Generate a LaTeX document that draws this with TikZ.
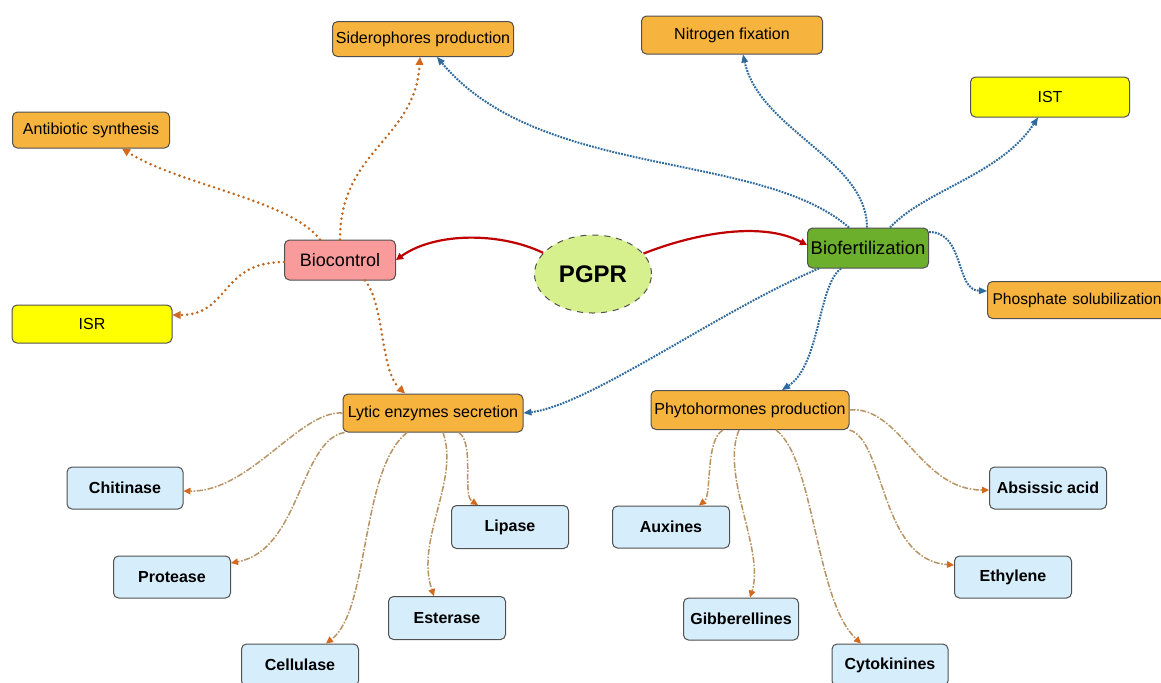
\documentclass[tikz,border=0pt]{standalone}
\usepackage{fontspec}
\setmainfont{Liberation Sans}
\usetikzlibrary{arrows.meta,shapes.geometric}
\definecolor{orangeF}{HTML}{F6B33E}
\definecolor{yellowF}{HTML}{FFFF00}
\definecolor{blueF}{HTML}{D6EDFB}
\definecolor{pinkF}{HTML}{F99B9B}
\definecolor{greenF}{HTML}{6BAF2C}
\definecolor{pgprF}{HTML}{D5F08C}
\definecolor{borderC}{HTML}{505050}
\definecolor{redL}{HTML}{C00000}
\definecolor{brownL}{HTML}{C0651B}
\definecolor{blueL}{HTML}{2F6A9E}
\definecolor{tanL}{HTML}{B89464}
\definecolor{tipO}{HTML}{D2691E}
\tikzset{
  box/.style 2 args={rectangle, rounded corners=2.5pt, draw=borderC, line width=0.5pt,
    minimum width=#1*0.5pt, minimum height=#2*0.5pt, inner sep=0pt, align=center},
  orangebox/.style={fill=orangeF, font=\fontsize{8}{9}\selectfont},
  yellowbox/.style={fill=yellowF, font=\fontsize{8}{9}\selectfont},
  bluebox/.style={fill=blueF, font=\fontsize{8}{9}\selectfont\bfseries},
  redlink/.style={draw=redL, line width=1.1pt, -{Triangle[length=3.5pt,width=3.5pt]}},
  brownlink/.style={draw=brownL, line width=1.4pt, dash pattern=on 0pt off 2.6pt, line cap=round,
    -{Triangle[length=4pt,width=4pt,fill=tipO,line width=0pt]}},
  bluelink/.style={draw=blueL, line width=1pt, dash pattern=on 0.9pt off 0.6pt,
    -{Triangle[length=4pt,width=3.5pt,fill=blueL,line width=0pt]}},
  tanlink/.style={draw=tanL, line width=0.75pt, dash pattern=on 3pt off 0.8pt on 0.8pt off 0.8pt,
    -{Triangle[length=3.5pt,width=3.5pt,fill=tipO,line width=0pt]}},
}
\begin{document}
\begin{tikzpicture}[x=0.5pt,y=-0.5pt]
\useasboundingbox (0,0) rectangle (1161,682);
\clip (0,0) rectangle (1161,682);
\fill[white] (0,0) rectangle (1161,682);

% main nodes
\node[ellipse, draw=borderC, dashed, line width=0.5pt, fill=pgprF, minimum width=58.5pt, minimum height=39pt, inner sep=0pt,
  font=\fontsize{12}{14}\selectfont\bfseries] (pgpr) at (593,274) {PGPR};
\node[box={111}{40}, fill=pinkF, font=\fontsize{9}{10}\selectfont] (bc) at (340,260) {Biocontrol};
\node[box={121}{40}, fill=greenF, font=\fontsize{9.2}{10}\selectfont] (bf) at (868,248) {Biofertilization};

% orange / yellow nodes
\node[box={181}{35}, orangebox] (sid) at (423,39) {Siderophores production};
\node[box={157}{36}, orangebox] (anti) at (91,130) {Antibiotic synthesis};
\node[box={160}{38}, yellowbox] (isr) at (92,324) {ISR};
\node[box={181}{38}, orangebox] (nf) at (732,35) {Nitrogen fixation};
\node[box={159}{40}, yellowbox] (ist) at (1050,97) {IST};
\node[box={190}{37}, orangebox, font=\fontsize{7.8}{9}\selectfont, align=left, text width=90pt, inner xsep=2.5pt, anchor=west] (ps) at (987,300) {Phosphate solubilization};
\node[box={180}{38}, orangebox] (lyt) at (433,413) {Lytic enzymes secretion};
\node[box={198}{39}, orangebox] (phy) at (750,410) {Phytohormones production};

% blue nodes
\node[box={116}{42}, bluebox] (chi) at (125,488) {Chitinase};
\node[box={117}{42}, bluebox] (pro) at (172,577) {Protease};
\node[box={117}{42}, bluebox] (cel) at (300,665) {Cellulase};
\node[box={117}{43}, bluebox] (est) at (447,618) {Esterase};
\node[box={117}{43}, bluebox] (lip) at (510,527) {Lipase};
\node[box={117}{42}, bluebox] (aux) at (671,527) {Auxines};
\node[box={115}{42}, bluebox] (gib) at (741,619) {Gibberellines};
\node[box={116}{42}, bluebox] (cyt) at (890,665) {Cytokinines};
\node[box={117}{42}, bluebox] (eth) at (1013,577) {Ethylene};
\node[box={117}{42}, bluebox] (abs) at (1048,488) {Absissic acid};

% red links
\draw[redlink] (pgpr.157) .. controls (500,232) and (435,232) .. (bc.east);
\draw[redlink] (pgpr.22) .. controls (690,235) and (760,220) .. ([yshift=1.5pt]bf.west);

% brown dotted links
\draw[brownlink] ([xshift=-10pt]bc.north) .. controls (290,200) and (180,185) .. ([xshift=15.5pt]anti.south);
\draw[brownlink] (bc.north) .. controls (340,150) and (415,140) .. ([xshift=-1.5pt]sid.south);
\draw[brownlink] ([yshift=-1pt]bc.west) .. controls (220,262) and (230,315) .. ([yshift=4.5pt]isr.east);
\draw[brownlink] ([xshift=12.5pt]bc.south) .. controls (385,305) and (380,370) .. ([xshift=-14pt]lyt.north);

% blue dotted links
\draw[bluelink] ([xshift=-9.5pt]bf.north) .. controls (760,150) and (540,180) .. ([xshift=7pt]sid.south);
\draw[bluelink] ([xshift=-0.5pt]bf.north) .. controls (867,160) and (760,130) .. ([xshift=5.5pt]nf.south);
\draw[bluelink] ([xshift=11pt]bf.north) .. controls (925,190) and (1000,175) .. ([xshift=-6pt]ist.south);
\draw[bluelink] ([yshift=8pt]bf.east) .. controls (965,232) and (955,290) .. ([yshift=4.5pt]ps.west);
\draw[bluelink] ([xshift=-24.5pt]bf.south) .. controls (720,310) and (590,405) .. (lyt.east);
\draw[bluelink] ([xshift=-13.5pt]bf.south) .. controls (818,285) and (820,365) .. ([xshift=16pt]phy.north);

% tan links from lytic enzymes
\draw[tanlink] (lyt.west) .. controls (300,410) and (250,492) .. ([yshift=-1.5pt]chi.east);
\draw[tanlink] ([xshift=1pt]lyt.south west) .. controls (300,440) and (300,550) .. ([yshift=7pt]pro.east);
\draw[tanlink] ([xshift=-13pt]lyt.south) .. controls (360,470) and (370,610) .. ([xshift=13pt]cel.north);
\draw[tanlink] ([xshift=5pt]lyt.south) .. controls (460,480) and (415,540) .. ([xshift=-6.5pt]est.north);
\draw[tanlink] ([xshift=13pt]lyt.south) .. controls (475,445) and (462,495) .. ([xshift=-16pt]lip.north);

% tan links from phytohormones
\draw[tanlink] ([xshift=-13.5pt]phy.south) .. controls (705,440) and (712,495) .. ([xshift=14pt]aux.north);
\draw[tanlink] ([xshift=-5.5pt]phy.south) .. controls (720,475) and (765,550) .. ([xshift=4.5pt]gib.north);
\draw[tanlink] ([xshift=13pt]phy.south) .. controls (815,460) and (815,600) .. ([xshift=-14.5pt]cyt.north);
\draw[tanlink] (phy.south east) .. controls (885,440) and (880,560) .. ([yshift=6pt]eth.west);
\draw[tanlink] (phy.east) .. controls (900,405) and (920,490) .. ([yshift=-1pt]abs.west);
\end{tikzpicture}
\end{document}
